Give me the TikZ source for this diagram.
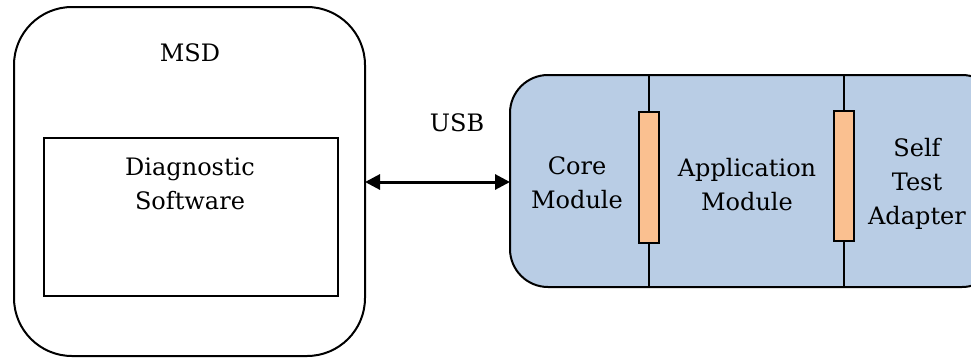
\documentclass[tikz,border=0pt]{standalone}
\usepackage{fontspec}
\setmainfont{DejaVu Serif}
\usetikzlibrary{arrows.meta}
\definecolor{modblue}{HTML}{B9CDE5}
\definecolor{connorange}{HTML}{FAC090}
\tikzset{
  x=1pt, y=-1pt,
  lbl/.style={font=\fontsize{24}{34}\selectfont, align=center, inner sep=0pt},
  outline/.style={draw=black, line width=2pt},
  thinline/.style={draw=black, line width=1.6pt},
  connector/.style={thinline, fill=connorange},
}
\begin{document}
\begin{tikzpicture}
\useasboundingbox (0,0) rectangle (971,357);
\begin{scope}
\clip (0,0) rectangle (971,357);
% host computer
\draw[outline, rounded corners=58pt] (14,7) rectangle (365,356);
\node[draw=black, line width=1.8pt, minimum width=294pt, minimum height=158pt, anchor=north west, inner sep=0pt] (sw) at (43,137) {};
\node[lbl] (msd) at (190,53) {MSD};
\node[lbl] at (190,184) {Diagnostic\\Software};
% module stack
\draw[outline, fill=modblue, rounded corners=38pt] (510,75) rectangle (1000,287);
\coordinate (stackw) at (510,182);
\coordinate (hostE) at (365,182);
\draw[thinline] (649,75) -- (649,287);
\draw[thinline] (844,75) -- (844,287);
\node[connector, minimum width=20pt, minimum height=131pt, inner sep=0pt] (c1) at (649,177.5) {};
\node[connector, minimum width=20pt, minimum height=130pt, inner sep=0pt] (c2) at (844,176) {};
\end{scope}
\node[lbl] (core) at (577,183) {Core\\Module};
\node[lbl] (app) at (747,185) {Application\\Module};
\node[lbl] (sta) at (917,184) {Self\\Test\\Adapter};
% USB link
\node[lbl] (usb) at (457,123) {USB};
\draw[line width=3pt, {Triangle[length=15pt,width=15pt]}-{Triangle[length=15pt,width=15pt]}] (hostE) -- (stackw);
\end{tikzpicture}
\end{document}
